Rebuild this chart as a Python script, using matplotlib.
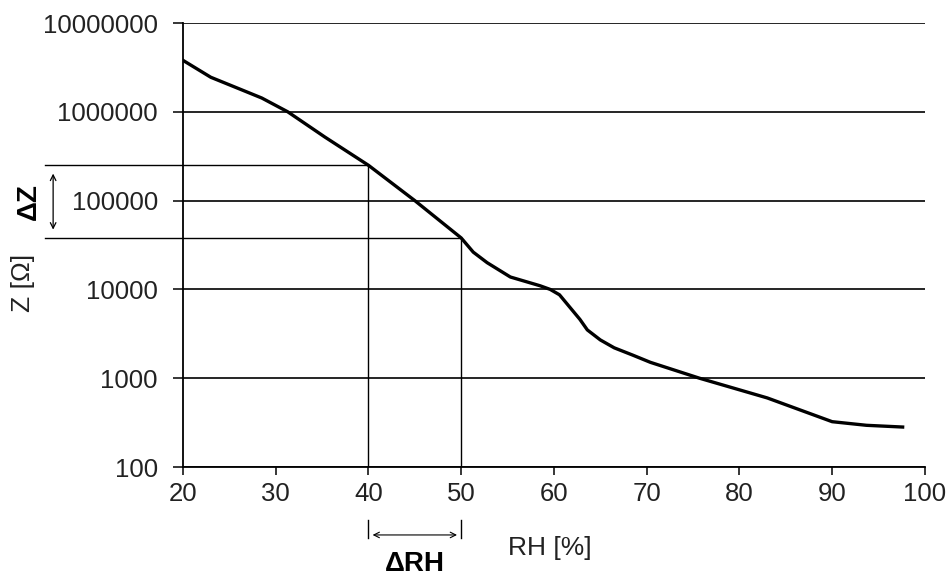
import numpy as np
import matplotlib
matplotlib.use("Agg")
import matplotlib.pyplot as plt
from matplotlib.ticker import FixedLocator, FuncFormatter

plt.rcParams['font.family'] = ['Liberation Sans', 'DejaVu Sans']

# impedance vs relative humidity
rh = [20, 23, 26.5, 28.5, 31.3, 35.3, 40, 45, 50, 51.3, 52.8, 55.3, 58.5,
      59.6, 60.6, 62.8, 63.6, 65, 66.5, 68.5, 70.4, 75.7, 83, 90, 93.7, 97.6]
z = [3.8e6, 2.45e6, 1.74e6, 1.43e6, 1.0e6, 5.2e5, 2.5e5, 1.0e5, 3.8e4, 2.63e4,
     2.0e4, 1.38e4, 1.1e4, 1.0e4, 8.7e3, 4.6e3, 3.5e3, 2.7e3, 2.2e3, 1.82e3,
     1.51e3, 1.0e3, 600, 324, 295, 282]
x_ticks = [20, 30, 40, 50, 60, 70, 80, 90, 100]
y_ticks = [100, 1000, 10000, 100000, 1000000, 10000000]
rh_lo, rh_hi = 40, 50  # the delta RH window

z_lo = 10 ** np.interp(rh_lo, rh, np.log10(z))
z_hi = 10 ** np.interp(rh_hi, rh, np.log10(z))

fig = plt.figure(figsize=(9.49, 5.77), dpi=100)
ax = fig.add_axes([0.1928, 0.1906, 0.7818, 0.7695])
txt = '#222222'

ax.set_yscale('log')
ax.set_xlim(20, 100)
ax.set_ylim(100, 1e7)

# grid lines at each decade
for yt in y_ticks:
    ax.axhline(yt, color='black', lw=1.2, zorder=1)

ax.plot(rh, z, color='black', lw=2.4, zorder=3, solid_joinstyle='round')

# delta markers inside the plot
ax.plot([rh_lo, rh_lo], [100, z_lo], color='black', lw=1.0, zorder=2)
ax.plot([rh_hi, rh_hi], [100, z_hi], color='black', lw=1.0, zorder=2)
ytr = ax.get_yaxis_transform()
ax.plot([-0.186, (rh_lo - 20) / 80], [z_lo, z_lo], color='black', lw=1.0,
        transform=ytr, clip_on=False)
ax.plot([-0.186, (rh_hi - 20) / 80], [z_hi, z_hi], color='black', lw=1.0,
        transform=ytr, clip_on=False)

# delta Z arrow + label
ax.annotate('', xy=(-0.175, z_lo), xytext=(-0.175, z_hi), xycoords=ytr,
            textcoords=ytr,
            arrowprops=dict(arrowstyle='<->', color='black', lw=0.9,
                            shrinkA=6, shrinkB=6))
ax.text(-0.208, np.sqrt(z_lo * z_hi), 'ΔZ', transform=ytr, rotation=90,
        ha='center', va='center', fontsize=20, fontweight='bold')

# delta RH arrow + label under the axis
xtr = ax.get_xaxis_transform()
for xv in (rh_lo, rh_hi):
    ax.plot([xv, xv], [-0.119, -0.160], color='black', lw=1.0,
            transform=xtr, clip_on=False)
ax.annotate('', xy=(rh_lo, -0.153), xytext=(rh_hi, -0.153), xycoords=xtr,
            textcoords=xtr,
            arrowprops=dict(arrowstyle='<->', color='black', lw=0.8,
                            shrinkA=3, shrinkB=3))
ax.text((rh_lo + rh_hi) / 2, -0.218, 'ΔRH', transform=xtr, ha='center',
        va='center', fontsize=20, fontweight='bold')

ax.text(59.6, -0.182, 'RH [%]', transform=xtr, ha='center', va='center',
        fontsize=19, color=txt)
ax.text(-0.215, 0.415, 'Z [Ω]', transform=ax.transAxes, rotation=90,
        ha='center', va='center', fontsize=19, color=txt)

# axes and ticks
ax.xaxis.set_major_locator(FixedLocator(x_ticks))
ax.yaxis.set_major_locator(FixedLocator(y_ticks))
ax.yaxis.set_minor_locator(FixedLocator([]))
ax.yaxis.set_major_formatter(FuncFormatter(lambda v, p: '%d' % v))
ax.tick_params(axis='y', direction='out', length=7, width=1.1, pad=11,
               labelsize=18.5, labelcolor=txt)
ax.tick_params(axis='x', direction='out', length=6, width=1.1, pad=5,
               labelsize=18.5, labelcolor=txt)
for s in ('top', 'right'):
    ax.spines[s].set_visible(False)
for s in ('left', 'bottom'):
    ax.spines[s].set_linewidth(1.3)

fig.savefig('out.png', dpi=100)
